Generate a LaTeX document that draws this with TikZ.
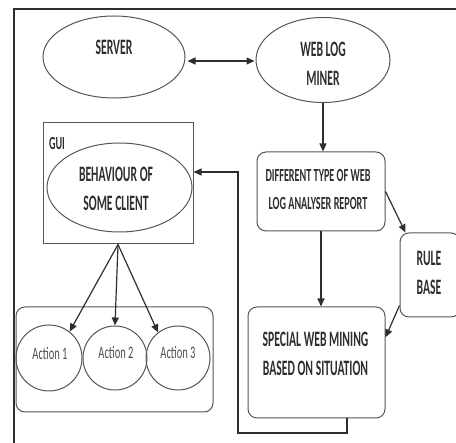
\documentclass[tikz,border=0pt]{standalone}
\usepackage{fontspec}
\newfontfamily\cond[FakeStretch=0.6]{Carlito}
\newfontfamily\condb[FakeStretch=0.53,UprightFont={* Bold}]{Carlito}
\newfontfamily\condc[FakeStretch=0.55,UprightFont={* Bold}]{Carlito}
\usetikzlibrary{shapes.geometric,arrows.meta}
\definecolor{ink}{HTML}{2E2E2E}
\definecolor{edge}{HTML}{555555}
\tikzset{
  shp/.style={draw=edge,line width=1pt,inner sep=0pt},
  ell/.style={shp,ellipse},
  rbox/.style={shp,rectangle,rounded corners=9pt},
  arr/.style={draw=ink,line width=1.2pt,-{Triangle[length=8pt,width=7pt]}},
  darr/.style={draw=ink,line width=1.2pt,{Triangle[length=8pt,width=7pt]}-{Triangle[length=8pt,width=7pt]}},
  lbl/.style={text=ink,font=\condb\fontsize{22}{29}\selectfont,inner sep=0pt},
  lbls/.style={text=ink,font=\condc\fontsize{18.5}{28}\selectfont,inner sep=0pt},
  albl/.style={text=ink!85,font=\cond\fontsize{17.5}{20}\selectfont,inner sep=0pt},
}
\begin{document}
\begin{tikzpicture}[x=1pt,y=-1pt]
\useasboundingbox (0,0) rectangle (456,443);
\clip (0,0) rectangle (456,443);
% frame
\coordinate (fr1) at (14,445);
\coordinate (fr2) at (14,9);
\coordinate (fr3) at (458,9);
\draw[ink,line width=2pt] (fr1) -- (fr2) -- (fr3);
% shapes
\node[ell,minimum width=142pt,minimum height=82pt] (server) at (114,57) {};
\node[ell,minimum width=134pt,minimum height=85pt] (miner) at (323,60) {};
\node[shp,rectangle,minimum width=150pt,minimum height=121pt] (gui) at (118,183.5) {};
\node[ell,minimum width=145pt,minimum height=89pt] (behav) at (119.5,187.5) {};
\node[rbox,minimum width=128pt,minimum height=79pt] (diff) at (321,191.5) {};
\node[rbox,minimum width=60pt,minimum height=84pt] (rule) at (430,275) {};
\node[rbox,minimum width=137pt,minimum height=111pt] (special) at (316.5,362.5) {};
\node[rbox,minimum width=197pt,minimum height=105pt] (actions) at (114.5,359.5) {};
\node[shp,circle,minimum size=66pt] (a1) at (49,358) {};
\node[shp,circle,minimum size=64pt] (a2) at (115,358) {};
\node[shp,circle,minimum size=64pt] (a3) at (178,358) {};
% texts
\node[lbl] (tserver) at (114,47.5) {SERVER};
\node[lbl,align=center] (tminer) at (323,63.5) {WEB LOG\\MINER};
\node[lbls] (tgui) at (57,144) {GUI};
\node[lbl,align=center] (tbehav) at (116,189) {BEHAVIOUR OF\\SOME CLIENT};
\node[lbls,align=center] (tdiff) at (318,190) {DIFFERENT TYPE OF WEB\\LOG ANALYSER REPORT};
\node[lbl,align=center] (trule) at (429,272.5) {RULE\\BASE};
\node[lbl,align=center] (tspecial) at (315.5,354) {SPECIAL WEB MINING\\BASED ON SITUATION};
\node[albl] (ta1) at (50,354) {Action 1};
\node[albl] (ta2) at (116,353) {Action 2};
\node[albl] (ta3) at (178,353) {Action 3};
% connectors
\draw[darr,shorten <=2pt,shorten >=1pt] (server.east |- 0,61) -- (miner.west |- 0,61);
\draw[arr] (miner.south) -- (miner.south |- diff.north);
\draw[arr] (diff.south) -- (diff.south |- special.north);
\draw[arr] (diff.east) -- (rule.120);
\draw[arr] (rule.225) -- (special.20);
\draw[arr] (gui.south) -- (a1.52);
\draw[arr] (gui.south) -- (a2.north);
\draw[arr] (gui.south) -- (a3.128);
\coordinate (fb1) at (347,433);
\coordinate (fb2) at (238,433);
\coordinate (fb3) at (238,172);
\draw[arr] (special.south -| fb1) -- (fb1) -- (fb2) -- (fb3) -- (fb3 -| gui.east);
\end{tikzpicture}
\end{document}
